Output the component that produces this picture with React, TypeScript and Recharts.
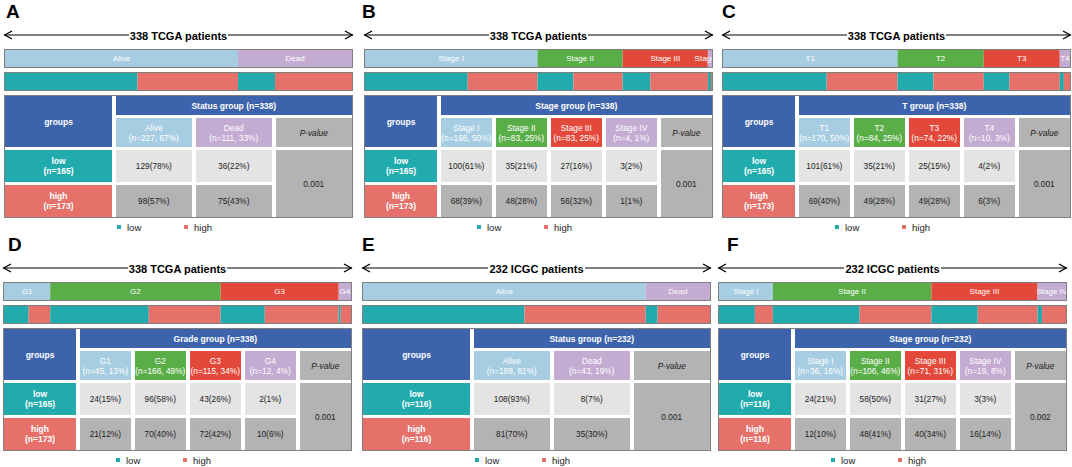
import React from 'react';
import { BarChart, Bar, XAxis, YAxis, LabelList } from 'recharts';

const FONT = '"Liberation Sans", Arial, Helvetica, sans-serif';
const W = 349;

const LOW = '#22abad';
const HIGH = '#e5716a';
const HEAD = '#3d63ad';
const CELL_LOW = '#e4e4e4';
const CELL_HIGH = '#b3b3b3';
const OUTLINE = '#7f7f7f';

const statusColors = ['#a6cde1', '#c3abd2'];
const stageColors = ['#a6cde1', '#5aae48', '#e3493a', '#c3abd2'];

// category names
const statusCats = ['Alive', 'Dead'];
const stageCats = ['Stage I', 'Stage II', 'Stage III', 'Stage IV'];
const tCats = ['T1', 'T2', 'T3', 'T4'];
const gradeCats = ['G1', 'G2', 'G3', 'G4'];

// counts per category for the low / high risk groups
const tcgaStatusLow = [129, 36];
const tcgaStatusHigh = [98, 75];
const tcgaStageLow = [100, 35, 27, 3];
const tcgaStageHigh = [68, 48, 56, 1];
const tcgaTLow = [101, 35, 25, 4];
const tcgaTHigh = [69, 49, 49, 6];
const tcgaGradeLow = [24, 96, 43, 2];
const tcgaGradeHigh = [21, 70, 72, 10];
const icgcStatusLow = [108, 8];
const icgcStatusHigh = [81, 35];
const icgcStageLow = [24, 58, 31, 3];
const icgcStageHigh = [12, 48, 40, 16];

const pValues = ['0.001', '0.001', '0.001', '0.001', '0.001', '0.002'];

const panels = [
  { letter: 'A', x: 4, y: 0, lx: 6, cohort: '338 TCGA patients', group: 'Status', cats: statusCats, colors: statusColors, low: tcgaStatusLow, high: tcgaStatusHigh, p: pValues[0] },
  { letter: 'B', x: 364, y: 0, lx: 362, cohort: '338 TCGA patients', group: 'Stage', cats: stageCats, colors: stageColors, low: tcgaStageLow, high: tcgaStageHigh, p: pValues[1] },
  { letter: 'C', x: 722, y: 0, lx: 722, cohort: '338 TCGA patients', group: 'T', cats: tCats, colors: stageColors, low: tcgaTLow, high: tcgaTHigh, p: pValues[2] },
  { letter: 'D', x: 3, y: 233, lx: 8, cohort: '338 TCGA patients', group: 'Grade', cats: gradeCats, colors: stageColors, low: tcgaGradeLow, high: tcgaGradeHigh, p: pValues[3] },
  { letter: 'E', x: 362, y: 233, lx: 362, cohort: '232 ICGC patients', group: 'Status', cats: statusCats, colors: statusColors, low: icgcStatusLow, high: icgcStatusHigh, p: pValues[4] },
  { letter: 'F', x: 718, y: 233, lx: 727, cohort: '232 ICGC patients', group: 'Stage', cats: stageCats, colors: stageColors, low: icgcStageLow, high: icgcStageHigh, p: pValues[5] },
];

const sum = (a: number[]) => a.reduce((s, v) => s + v, 0);
const pct = (v: number, n: number) => Math.round((v / n) * 100);

function StackRow({ data, keys, fills, labels, total }: any) {
  return (
    <div style={{ width: W, height: 19, border: `1px solid ${OUTLINE}`, boxSizing: 'border-box', overflow: 'hidden' }}>
      <BarChart width={W - 2} height={17} data={data} layout="vertical" margin={{ top: 0, right: 0, bottom: 0, left: 0 }} barCategoryGap={0}>
        <XAxis type="number" hide domain={[0, total]} allowDataOverflow />
        <YAxis type="category" dataKey="name" hide />
        {keys.map((k: string, i: number) => (
          <Bar key={k} dataKey={k} stackId="s" fill={fills[i]} isAnimationActive={false}>
            {labels && (
              <LabelList
                dataKey={k}
                content={(p: any) => (
                  <text x={p.x + p.width / 2} y={p.y + p.height / 2} textAnchor="middle" dominantBaseline="central" fill="#fff" fontSize={8} fontFamily={FONT}>
                    {labels[i]}
                  </text>
                )}
              />
            )}
          </Bar>
        ))}
      </BarChart>
    </div>
  );
}

function Cell({ style, children }: any) {
  return (
    <div style={{ display: 'flex', flexDirection: 'column', alignItems: 'center', justifyContent: 'center', textAlign: 'center', lineHeight: '10px', fontSize: 8.3, minWidth: 0, overflow: 'hidden', whiteSpace: 'nowrap', ...style }}>
      {children}
    </div>
  );
}

function Panel({ spec }: any) {
  const { letter, x, y, lx, cohort, group, cats, colors, low, high, p } = spec;
  const nLow = sum(low);
  const nHigh = sum(high);
  const total = nLow + nHigh;
  const n = cats.length;

  const catRow: any = { name: 'cat' };
  cats.forEach((_: string, i: number) => { catRow[`c${i}`] = low[i] + high[i]; });
  const riskRow: any = { name: 'risk' };
  const riskKeys: string[] = [];
  const riskFills: string[] = [];
  cats.forEach((_: string, i: number) => {
    riskRow[`l${i}`] = low[i];
    riskRow[`h${i}`] = high[i];
    riskKeys.push(`l${i}`, `h${i}`);
    riskFills.push(LOW, HIGH);
  });

  const ay = 35;
  return (
    <div style={{ position: 'absolute', left: x, top: y, width: W, height: 233 }}>
      <svg width={W} height={45} style={{ position: 'absolute', left: 0, top: 0, overflow: 'visible' }}>
        <text x={lx - x} y={18} fontSize={19} fontWeight="bold" fontFamily={FONT} fill="#000">{letter}</text>
        <line x1={0} y1={ay} x2={W} y2={ay} stroke="#000" strokeWidth={1.2} />
        <polyline points={`8,${ay - 4} 0.8,${ay} 8,${ay + 4}`} fill="none" stroke="#000" strokeWidth={1.3} />
        <polyline points={`${W - 8},${ay - 4} ${W - 0.8},${ay} ${W - 8},${ay + 4}`} fill="none" stroke="#000" strokeWidth={1.3} />
      </svg>
      <div style={{ position: 'absolute', left: 0, top: ay - 7, width: W, height: 14, textAlign: 'center', lineHeight: '14px' }}>
        <span style={{ background: '#fff', padding: '0 1px', fontSize: 11, fontWeight: 'bold', color: '#000' }}>{cohort}</span>
      </div>

      <div style={{ position: 'absolute', left: 0, top: 49 }}>
        <StackRow data={[catRow]} keys={cats.map((_: string, i: number) => `c${i}`)} fills={colors} labels={cats} total={total} />
      </div>
      <div style={{ position: 'absolute', left: 0, top: 72 }}>
        <StackRow data={[riskRow]} keys={riskKeys} fills={riskFills} total={total} />
      </div>

      <div
        style={{
          position: 'absolute', left: 0, top: 95, width: W, height: 123, boxSizing: 'border-box',
          border: `1px solid ${OUTLINE}`, background: '#fff', display: 'grid',
          gridTemplateColumns: `minmax(0,1.4fr) repeat(${n + 1}, minmax(0,1fr))`,
          gridTemplateRows: '19px 29px 32px 32px', columnGap: 3.5, rowGap: 3,
          color: '#222',
        }}
      >
        <Cell style={{ gridColumn: '1', gridRow: '1 / 3', background: HEAD, color: '#fff', fontWeight: 'bold', fontSize: 8.5 }}>groups</Cell>
        <Cell style={{ gridColumn: '2 / -1', gridRow: '1', background: HEAD, color: '#fff', fontWeight: 'bold', fontSize: 8.5 }}>
          {`${group} group (n=${total})`}
        </Cell>
        {cats.map((c: string, i: number) => (
          <Cell key={c} style={{ gridColumn: `${i + 2}`, gridRow: '2', background: colors[i], color: '#fff' }}>
            <span>{c}</span>
            <span>{`(n=${low[i] + high[i]}, ${pct(low[i] + high[i], total)}%)`}</span>
          </Cell>
        ))}
        <Cell style={{ gridColumn: `${n + 2}`, gridRow: '2', background: CELL_HIGH, fontStyle: 'italic' }}>P-value</Cell>

        <Cell style={{ gridColumn: '1', gridRow: '3', background: LOW, color: '#fff', fontWeight: 'bold', fontSize: 8.5 }}>
          <span>low</span>
          <span>{`(n=${nLow})`}</span>
        </Cell>
        {low.map((v: number, i: number) => (
          <Cell key={`l${i}`} style={{ gridColumn: `${i + 2}`, gridRow: '3', background: CELL_LOW }}>
            {`${v}(${pct(v, nLow)}%)`}
          </Cell>
        ))}
        <Cell style={{ gridColumn: `${n + 2}`, gridRow: '3 / 5', background: CELL_HIGH }}>{p}</Cell>

        <Cell style={{ gridColumn: '1', gridRow: '4', background: HIGH, color: '#fff', fontWeight: 'bold', fontSize: 8.5 }}>
          <span>high</span>
          <span>{`(n=${nHigh})`}</span>
        </Cell>
        {high.map((v: number, i: number) => (
          <Cell key={`h${i}`} style={{ gridColumn: `${i + 2}`, gridRow: '4', background: CELL_HIGH }}>
            {`${v}(${pct(v, nHigh)}%)`}
          </Cell>
        ))}
      </div>

      <div style={{ position: 'absolute', left: W / 2 - 61.5, top: 221, height: 12, display: 'flex', alignItems: 'center', fontSize: 9.5, color: '#222' }}>
        {[['low', LOW], ['high', HIGH]].map(([name, col]) => (
          <div key={name} style={{ width: 67, display: 'flex', alignItems: 'center' }}>
            <span style={{ width: 4, height: 4, background: col, display: 'inline-block', marginRight: 6 }} />
            <span>{name}</span>
          </div>
        ))}
      </div>
    </div>
  );
}

export default function App() {
  return (
    <div style={{ position: 'absolute', left: 0, top: 0, width: 1072, height: 467, background: '#fff', fontFamily: FONT, overflow: 'hidden' }}>
      {panels.map((s) => (
        <Panel key={s.letter} spec={s} />
      ))}
    </div>
  );
}
